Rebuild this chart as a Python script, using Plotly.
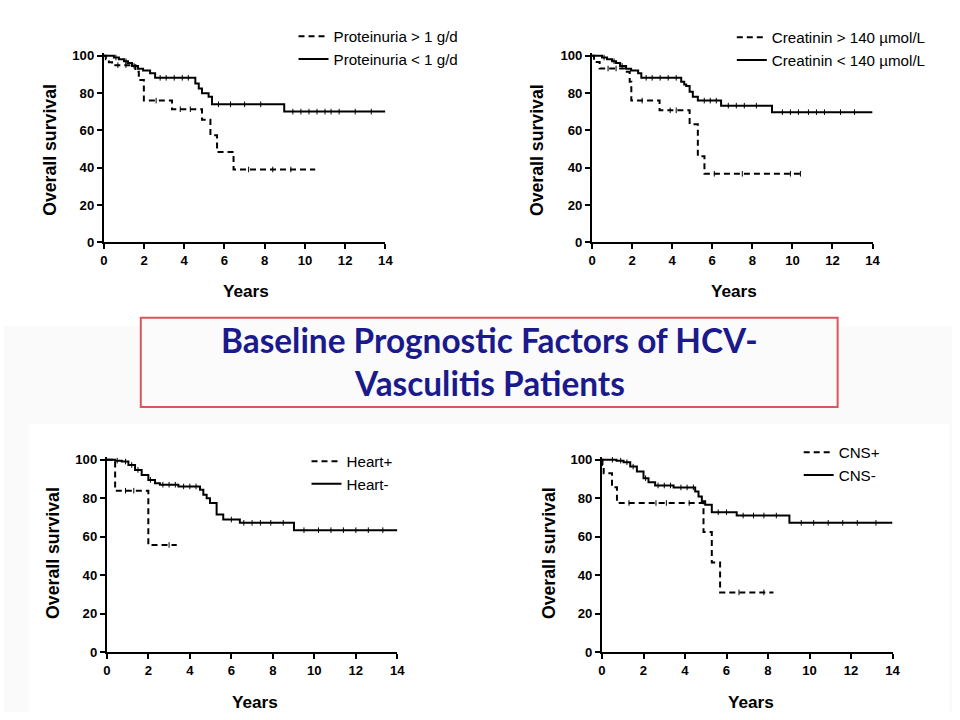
import plotly.graph_objects as go
import numpy as np

# ---------------- data ----------------
year_ticks = [0, 2, 4, 6, 8, 10, 12, 14]
surv_ticks = [0, 20, 40, 60, 80, 100]

# Panel 1: proteinuria
prot_hi_t = [0, 0.1, 0.25, 0.41, 1.57, 1.74, 1.99, 3.39, 4.88, 5.30, 5.63, 6.45, 10.51]
prot_hi_s = [100, 98, 96.5, 94.9, 91.3, 86.9, 75.9, 71.3, 65.6, 57.3, 48.4, 39.0, 39.0]
prot_hi_c = [0.7, 1.1, 2.6, 3.8, 4.3, 7.2, 8.4, 9.3]
prot_lo_t = [0, 0.5, 0.75, 1.0, 1.2, 1.4, 1.7, 1.95, 2.3, 2.55, 4.55, 4.72, 4.88, 5.21, 5.38, 8.97, 14]
prot_lo_s = [100, 99, 98, 97, 96, 94.5, 93, 92, 90.5, 88.1, 85.1, 82.4, 79.8, 78.0, 73.9, 70.0, 70.0]
prot_lo_c = [0.6, 1.1, 1.5, 2.8, 3.1, 3.5, 3.9, 4.2, 5.7, 6.3, 7.0, 7.8, 9.4, 9.8, 10.2, 10.6,
             11.0, 11.3, 11.7, 12.5, 13.3]

# Panel 2: creatinin
creat_hi_t = [0, 0.1, 0.38, 1.63, 1.88, 1.96, 3.37, 4.87, 5.28, 5.61, 10.51]
creat_hi_s = [100, 96.6, 93.1, 91.3, 86.0, 75.9, 70.7, 63.3, 46.1, 36.7, 36.7]
creat_hi_c = [0.8, 1.2, 2.5, 3.9, 4.2, 6.1, 7.5, 9.9, 10.4]
creat_lo_t = [0, 0.5, 0.75, 1.0, 1.2, 1.4, 1.7, 1.95, 2.3, 2.46, 4.45, 4.6, 4.7, 4.87, 5.03, 5.28,
              6.44, 8.98, 14]
creat_lo_s = [100, 99, 98, 97, 96, 94.5, 93, 92, 90.5, 88.1, 86.0, 84.5, 83.7, 80.7, 78.0, 75.9,
              73.2, 69.7, 69.7]
creat_lo_c = [0.6, 1.1, 1.5, 2.7, 3.0, 3.4, 3.8, 4.2, 5.6, 5.9, 6.2, 6.8, 7.2, 7.6, 8.2, 9.5,
              9.9, 10.3, 10.8, 11.2, 11.6, 12.4, 13.1]

# Panel 3: heart
heart_pos_t = [0, 0.4, 2.0, 3.37]
heart_pos_s = [100, 83.9, 55.7, 55.7]
heart_pos_c = [0.9, 1.3, 3.0]
heart_neg_t = [0, 0.4, 0.72, 1.04, 1.36, 1.68, 2.0, 2.32, 2.56, 3.45, 4.49, 4.65, 4.81, 4.97,
               5.29, 5.61, 6.41, 9.02, 14]
heart_neg_s = [100, 99.5, 99, 97.3, 94.7, 92.1, 89.5, 87.8, 87.0, 86.1, 84.4, 81.8, 80.0, 77.5,
               71.5, 68.9, 67.2, 63.4, 63.4]
heart_neg_c = [0.5, 0.9, 1.2, 1.5, 2.1, 2.7, 3.0, 3.3, 3.7, 4.0, 4.3, 6.0, 6.6, 7.0, 7.4, 7.9,
               8.5, 9.5, 10.2, 10.8, 11.4, 12.0, 12.6, 13.3]

# Panel 4: CNS
cns_pos_t = [0, 0.02, 0.08, 0.48, 0.72, 4.89, 5.29, 5.69, 8.26]
cns_pos_s = [100, 97.3, 92.9, 85.7, 77.5, 62.4, 46.6, 31.1, 31.1]
cns_pos_c = [1.3, 2.6, 3.1, 4.2, 6.6, 7.8]
cns_neg_t = [0, 0.7, 1.04, 1.36, 1.68, 2.0, 2.24, 2.56, 3.45, 4.49, 4.65, 4.81, 4.97, 5.29,
             6.49, 9.03, 14]
cns_neg_s = [100, 99.5, 98.7, 96.4, 93.8, 90.4, 88.3, 86.6, 85.6, 83.5, 80.9, 78.4, 76.6, 72.7,
             71.0, 67.2, 67.2]
cns_neg_c = [0.5, 0.9, 1.2, 1.5, 2.1, 2.7, 3.0, 3.3, 3.8, 4.1, 4.4, 5.6, 6.0, 6.8, 7.3, 7.8,
             8.4, 9.6, 10.2, 10.9, 11.6, 12.3, 13.2]

panels = [
    {"pos": (prot_hi_t, prot_hi_s, prot_hi_c, "Proteinuria > 1 g/d"),
     "neg": (prot_lo_t, prot_lo_s, prot_lo_c, "Proteinuria < 1 g/d")},
    {"pos": (creat_hi_t, creat_hi_s, creat_hi_c, "Creatinin > 140 µmol/L"),
     "neg": (creat_lo_t, creat_lo_s, creat_lo_c, "Creatinin < 140 µmol/L")},
    {"pos": (heart_pos_t, heart_pos_s, heart_pos_c, "Heart+"),
     "neg": (heart_neg_t, heart_neg_s, heart_neg_c, "Heart-")},
    {"pos": (cns_pos_t, cns_pos_s, cns_pos_c, "CNS+"),
     "neg": (cns_neg_t, cns_neg_s, cns_neg_c, "CNS-")},
]

# ---------------- layout geometry (pixels in 960x720) ----------------
W, H = 960, 720
SC = 1.011          # small compensation so the photographed page lines up with the reference
YMAX = 101.5
geom = [
    (100, 382, 239, 51),
    (589, 870, 239, 51),
    (103, 394, 652, 458),
    (599, 890, 652, 458),
]
leg_pos = [(290, 15), (729, 16), (303, 443), (796, 434)]
ylab_pos = [(46, 146), (534, 146), (49, 552), (546, 552)]
xlab_pos = [(242, 288), (731, 288), (251, 702), (748, 702)]

FONT = "Liberation Sans, Arial, sans-serif"


def px(v):
    return v * SC / W


def py(v):
    return 1 - v * SC / H


def fs(v):
    return v * SC


def step_eval(t, s, c):
    t = np.asarray(t, float)
    s = np.asarray(s, float)
    idx = np.searchsorted(t, np.asarray(c, float), side="right") - 1
    return s[idx]


fig = go.Figure()
layout = dict(width=W, height=H, margin=dict(l=0, r=0, t=0, b=0),
              paper_bgcolor="white", plot_bgcolor="rgba(0,0,0,0)",
              font=dict(family=FONT, color="black"), showlegend=True)

annotations = []
for i, p in enumerate(panels):
    suf = "" if i == 0 else str(i + 1)
    xa, ya = "x" + suf, "y" + suf
    lg = "legend" if i == 0 else f"legend{i + 1}"
    for key, dash in (("pos", "6px,4px"), ("neg", "solid")):
        t, s, c, name = p[key]
        fig.add_trace(go.Scatter(x=t, y=s, mode="lines", name=name,
                                 line=dict(color="black", width=2, dash=dash, shape="hv"),
                                 xaxis=xa, yaxis=ya, legend=lg))
        fig.add_trace(go.Scatter(x=c, y=step_eval(t, s, c), mode="markers", showlegend=False,
                                 marker=dict(symbol="line-ns", size=4,
                                             line=dict(width=1, color="black")),
                                 xaxis=xa, yaxis=ya, hoverinfo="skip"))
    x0, x14, y0, y100 = geom[i]
    ytop = y0 - YMAX * (y0 - y100) / 100.0
    common = dict(ticks="outside", ticklen=5, tickwidth=2, tickcolor="black",
                  showline=True, linewidth=2, linecolor="black", showgrid=False,
                  zeroline=False, tickfont=dict(size=fs(13), weight="bold", color="black",
                                                family=FONT))
    layout["xaxis" + suf] = dict(domain=[px(x0), px(x14)], range=[0, 14], tickvals=year_ticks,
                                 anchor=ya, **common)
    layout["yaxis" + suf] = dict(domain=[py(y0), py(ytop)], range=[0, YMAX],
                                 tickvals=surv_ticks, anchor=xa, **common)
    lx, ly = leg_pos[i]
    layout[lg] = dict(x=px(lx), y=py(ly), xanchor="left", yanchor="top",
                      bgcolor="rgba(0,0,0,0)", borderwidth=0, itemwidth=30, tracegroupgap=0,
                      font=dict(size=fs(15), color="black", family=FONT))
    annotations.append(dict(text="Overall survival", x=px(ylab_pos[i][0]), y=py(ylab_pos[i][1]),
                            xref="paper", yref="paper", textangle=-90, showarrow=False,
                            xanchor="center", yanchor="middle",
                            font=dict(size=fs(17.5), weight="bold", color="black", family=FONT)))
    annotations.append(dict(text="Years", x=px(xlab_pos[i][0]), y=py(xlab_pos[i][1]),
                            xref="paper", yref="paper", showarrow=False,
                            xanchor="center", yanchor="middle",
                            font=dict(size=fs(17), weight="bold", color="black", family=FONT)))

TFONT = dict(family="Lato, Open Sans, sans-serif", size=fs(33), weight="bold", color="#1a1a8c")
annotations.append(dict(text="Baseline Prognostic Factors of HCV-", x=px(486), y=py(337),
                        xref="paper", yref="paper", showarrow=False, xanchor="center",
                        yanchor="middle", font=TFONT))
annotations.append(dict(text="Vasculitis Patients", x=px(486), y=py(381),
                        xref="paper", yref="paper", showarrow=False, xanchor="center",
                        yanchor="middle", font=TFONT))
layout["annotations"] = annotations

layout["shapes"] = [
    dict(type="rect", xref="paper", yref="paper", x0=0, x1=min(1, px(953)), y0=0, y1=py(323),
         fillcolor="#fafafa", line=dict(width=0), layer="below"),
    dict(type="rect", xref="paper", yref="paper", x0=px(25), x1=px(947), y0=0, y1=py(422),
         fillcolor="white", line=dict(width=0), layer="below"),
    dict(type="rect", xref="paper", yref="paper", x0=px(137), x1=px(835), y0=py(405),
         y1=py(315), fillcolor="#fbfbfb", line=dict(width=2, color="#d9565a"), layer="below"),
]

fig.update_layout(**layout)
fig.write_html("out.html")
